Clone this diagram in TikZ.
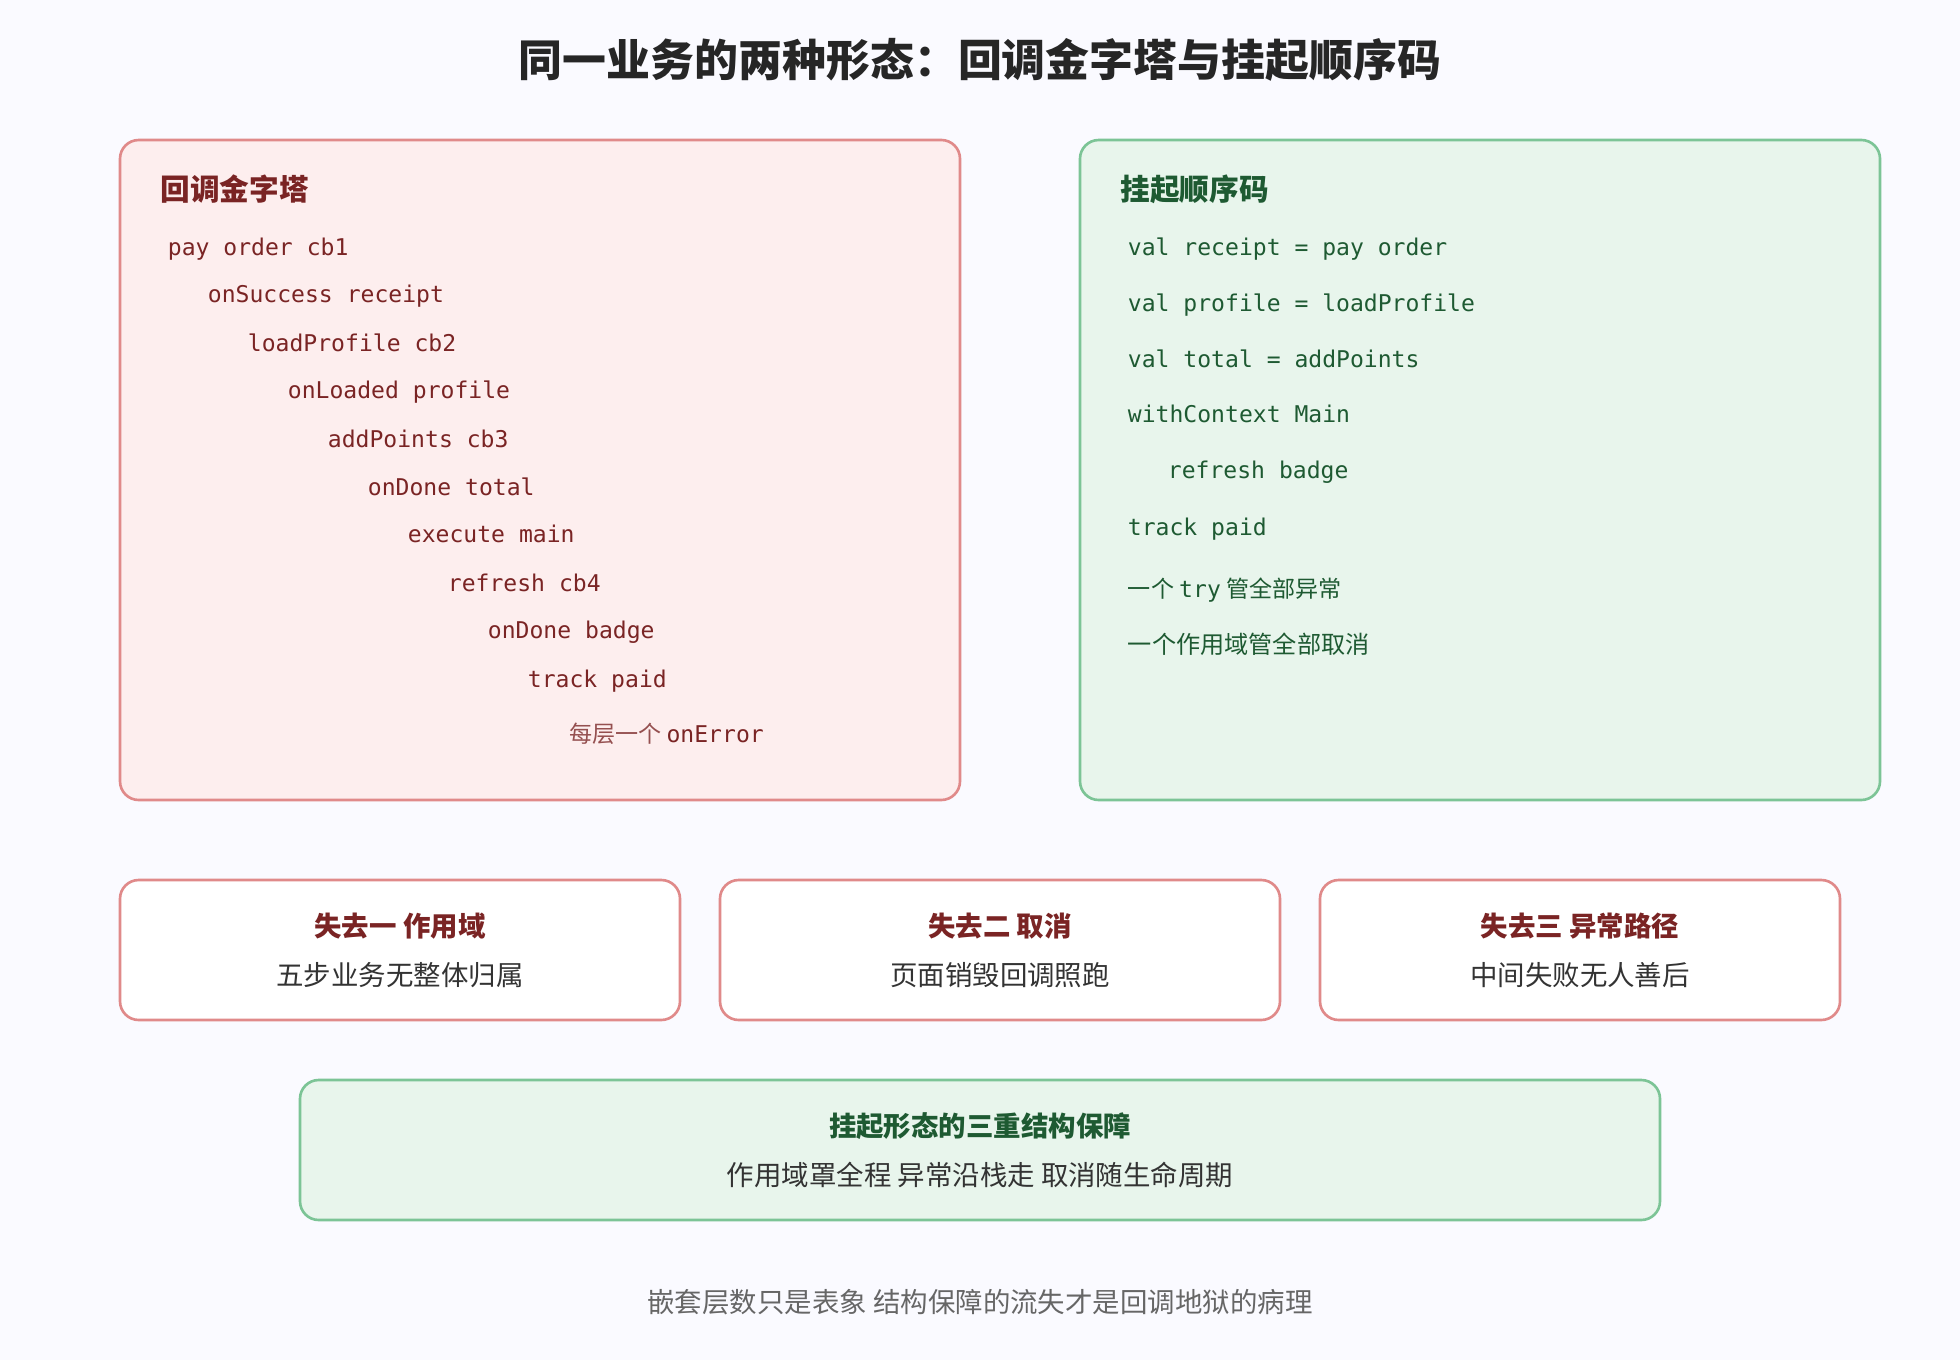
\documentclass[tikz,border=0pt]{standalone}
\usepackage{fontspec}
\setmainfont{Noto Sans CJK SC}
\setmonofont{DejaVu Sans Mono}
\definecolor{redfill}{HTML}{FDEEEE}
\definecolor{redline}{HTML}{E08A8A}
\definecolor{redtext}{HTML}{7A2424}
\definecolor{grnfill}{HTML}{E8F5EC}
\definecolor{grnline}{HTML}{7CC496}
\definecolor{grntext}{HTML}{1E5A32}
\definecolor{bodytext}{HTML}{333333}
\begin{document}
\begin{tikzpicture}[x=0.02cm,y=-0.02cm,
  box/.style={rounded corners=0.3cm,line width=1.2pt},
  code/.style={anchor=base west,inner xsep=0pt,font=\ttfamily\fontsize{10.5}{13}\selectfont},
  lc/.style={code,text=redtext},
  rc/.style={code,text=grntext},
  ttl/.style={anchor=base west,inner xsep=0pt,font=\bfseries\fontsize{13.5}{16}\selectfont},
  hd/.style={font=\bfseries\fontsize{12.5}{15}\selectfont,text=redtext},
  sb/.style={font=\fontsize{12.5}{15}\selectfont,text=bodytext}]
\useasboundingbox (0,0) rectangle (1568,1088);
\fill[white!98!blue] (0,0) rectangle (1568,1088);
\node[font=\bfseries\fontsize{20}{24}\selectfont,text=black!85] (title) at (784,48) {同一业务的两种形态：回调金字塔与挂起顺序码};
% left
\draw[box,fill=redfill,draw=redline] (96,112) rectangle (768,640);
\node[ttl,text=redtext] (lt) at (128,160) {回调金字塔};
\node[lc] (l1) at (134,204) {pay order cb1};
\node[lc] (l2) at (166,242) {onSuccess receipt};
\node[lc] (l3) at (198,281) {loadProfile cb2};
\node[lc] (l4) at (230,319) {onLoaded profile};
\node[lc] (l5) at (262,358) {addPoints cb3};
\node[lc] (l6) at (294,396) {onDone total};
\node[lc] (l7) at (326,434) {execute main};
\node[lc] (l8) at (358,473) {refresh cb4};
\node[lc] (l9) at (390,511) {onDone badge};
\node[lc] (l10) at (422,550) {track paid};
\node[lc] (l11) at (455,594) {{\rmfamily\color{redtext!80}每层一个 }onError};
% right
\draw[box,fill=grnfill,draw=grnline] (864,112) rectangle (1504,640);
\node[ttl,text=grntext] (rt) at (896,160) {挂起顺序码};
\node[rc] (r1) at (902,204) {val receipt = pay order};
\node[rc] (r2) at (902,249) {val profile = loadProfile};
\node[rc] (r3) at (902,294) {val total = addPoints};
\node[rc] (r4) at (902,338) {withContext Main};
\node[rc] (r5) at (934,383) {refresh badge};
\node[rc] (r6) at (902,428) {track paid};
\node[rc] (r7) at (902,478) {{\rmfamily 一个 }try{\rmfamily{} 管全部异常}};
\node[rc,font=\rmfamily\fontsize{11}{13}\selectfont] (r8) at (902,523) {一个作用域管全部取消};
% losses
\draw[box,fill=white,draw=redline] (96,704) rectangle (544,816);
\node[hd] (a1) at (320,741) {失去一 作用域};
\node[sb] (a2) at (320,780) {五步业务无整体归属};
\draw[box,fill=white,draw=redline] (576,704) rectangle (1024,816);
\node[hd] (b1) at (800,741) {失去二 取消};
\node[sb] (b2) at (800,780) {页面销毁回调照跑};
\draw[box,fill=white,draw=redline] (1056,704) rectangle (1472,816);
\node[hd] (c1) at (1264,741) {失去三 异常路径};
\node[sb] (c2) at (1264,780) {中间失败无人善后};
% guarantee
\draw[box,fill=grnfill,draw=grnline] (240,864) rectangle (1328,976);
\node[hd,text=grntext] (g1) at (784,901) {挂起形态的三重结构保障};
\node[sb] (g2) at (784,940) {作用域罩全程 异常沿栈走 取消随生命周期};
\node[font=\fontsize{12.5}{15}\selectfont,text=black!60] (foot) at (784,1042) {嵌套层数只是表象 结构保障的流失才是回调地狱的病理};
\end{tikzpicture}
\end{document}
